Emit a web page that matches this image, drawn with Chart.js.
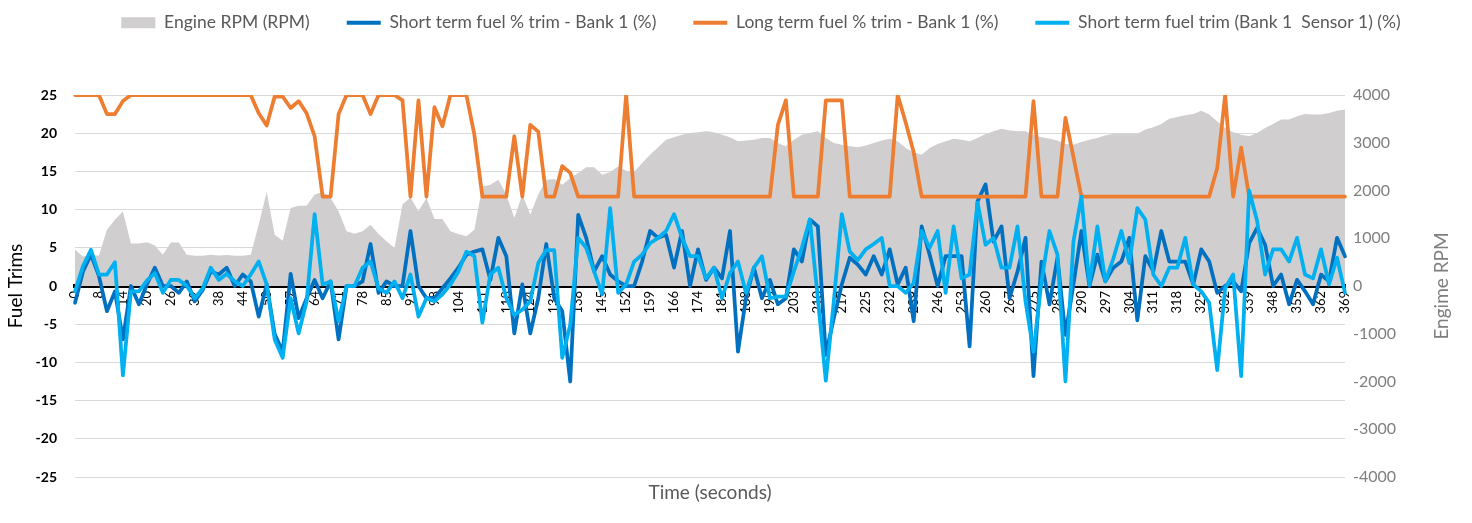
<!DOCTYPE html>
<html>
<head>
<meta charset="utf-8">
<script src="https://cdn.jsdelivr.net/npm/chart.js@4.4.1/dist/chart.umd.min.js"></script>
<style>
html,body{margin:0;padding:0;background:#ffffff;}
#wrap{width:1472px;height:523px;position:relative;}
</style>
</head>
<body>
<div id="wrap"><canvas id="c"></canvas></div>
<script>
// x-axis tick labels (time in seconds, shown every 3rd sample)
const timeTicks = [0,8,14,20,26,32,38,44,50,57,64,71,78,85,91,98,104,111,118,124,131,138,145,152,159,166,174,181,188,195,203,210,217,225,232,239,246,253,260,267,275,283,290,297,304,311,318,325,332,339,348,355,362,369];

// Engine RPM (RPM) - right axis
const engineRpm = [
  760, 620, 640, 640, 1180, 1390, 1560, 890, 890, 915,
  850, 655, 910, 910, 655, 635, 635, 655, 640, 650,
  635, 635, 655, 1285, 1970, 1075, 950, 1635, 1680, 1680,
  1915, 1970, 1845, 1565, 1145, 1095, 1145, 1285, 1090, 935,
  795, 1705, 1855, 1565, 1845, 1405, 1405, 1145, 1090, 1040,
  1180, 2085, 2120, 2225, 1915, 1425, 1915, 1495, 1915, 2225,
  2240, 2120, 2260, 2365, 2485, 2485, 2330, 2385, 2505, 2415,
  2385, 2575, 2750, 2905, 3065, 3115, 3170, 3205, 3220, 3240,
  3220, 3170, 3115, 3030, 3045, 3065, 3100, 3100, 2995, 2925,
  3065, 3170, 3205, 3240, 3100, 2995, 2960, 2925, 2905, 2945,
  2995, 3045, 3085, 3030, 2890, 2800, 2750, 2890, 2975, 3030,
  3085, 3065, 3030, 3100, 3185, 3240, 3295, 3255, 3240, 3240,
  3170, 3115, 3085, 3045, 2975, 2960, 3015, 3065, 3100, 3155,
  3185, 3185, 3185, 3185, 3275, 3325, 3395, 3505, 3540, 3575,
  3600, 3670, 3590, 3450, 3310, 3220, 3170, 3135, 3205, 3310,
  3395, 3485, 3485, 3555, 3600, 3590, 3590, 3625, 3670, 3695
];

// Short term fuel % trim - Bank 1 (%)
const stftBank1 = [
  -2.2, 1.9, 4.1, 1.3, -3.3, -0.7, -7.0, 0, -2.4, 0.2,
  2.4, 0, 0, -0.9, 0.6, -2.0, -0.5, 1.9, 1.5, 2.4,
  0, 1.5, 0.6, -4.0, 0.2, -6.3, -8.6, 1.6, -4.2, -1.6,
  0.8, -1.6, 0.6, -7.0, 0, 0, 0.6, 5.5, -0.9, 0.6,
  0, 0, 7.2, 0, -1.6, -1.6, -0.3, 1.0, 2.4, 4.1,
  4.5, 4.8, 0.8, 6.3, 3.9, -6.2, 0.2, -6.2, -1.6, 5.5,
  -1.6, -3.3, -12.5, 9.3, 6.3, 1.9, 3.9, 1.5, 0.6, 0,
  0, 3.2, 7.2, 6.3, 6.7, 2.4, 7.2, 0, 4.8, 0.8,
  2.4, 1.0, 7.2, -8.6, -1.6, 2.4, -1.6, 0.8, -2.4, -1.6,
  4.8, 3.2, 8.7, 7.8, -9.0, -4.2, 0.2, 3.7, 2.8, 1.5,
  3.9, 1.5, 4.8, 0.2, 2.4, -4.6, 7.8, 4.1, 0, 3.9,
  3.9, 3.9, -7.9, 11.1, 13.3, 5.8, 7.8, -1.6, 1.9, 6.3,
  -11.8, 3.2, -2.4, 3.7, -6.4, 0.2, 7.2, 0, 4.1, 0.6,
  2.4, 3.2, 6.3, -4.5, 3.9, 1.9, 7.2, 3.2, 3.2, 3.2,
  0.2, 4.8, 3.2, -0.9, 0, 0.6, -0.7, 5.6, 7.6, 5.4,
  0, 1.5, -2.4, 0.8, -0.7, -2.4, 1.5, 0.6, 6.3, 3.9
];

// Long term fuel % trim - Bank 1 (%)
const ltftBank1 = [
  25, 25, 25, 25, 22.5, 22.5, 24.2, 25, 25, 25,
  25, 25, 25, 25, 25, 25, 25, 25, 25, 25,
  25, 25, 25, 22.6, 21.0, 24.8, 24.8, 23.3, 24.2, 22.6,
  19.6, 11.7, 11.7, 22.5, 25, 25, 25, 22.5, 25, 25,
  25, 24.3, 11.7, 24.3, 11.7, 23.4, 20.9, 25, 25, 25,
  19.8, 11.7, 11.7, 11.7, 11.7, 19.6, 11.7, 21.1, 20.2, 11.7,
  11.7, 15.7, 14.8, 11.7, 11.7, 11.7, 11.7, 11.7, 11.7, 25,
  11.7, 11.7, 11.7, 11.7, 11.7, 11.7, 11.7, 11.7, 11.7, 11.7,
  11.7, 11.7, 11.7, 11.7, 11.7, 11.7, 11.7, 11.7, 21.1, 24.3,
  11.7, 11.7, 11.7, 11.7, 24.3, 24.3, 24.3, 11.7, 11.7, 11.7,
  11.7, 11.7, 11.7, 25, 21.4, 17.5, 11.7, 11.7, 11.7, 11.7,
  11.7, 11.7, 11.7, 11.7, 11.7, 11.7, 11.7, 11.7, 11.7, 11.7,
  24.2, 11.7, 11.7, 11.7, 22.0, 16.9, 11.7, 11.7, 11.7, 11.7,
  11.7, 11.7, 11.7, 11.7, 11.7, 11.7, 11.7, 11.7, 11.7, 11.7,
  11.7, 11.7, 11.7, 15.4, 25, 11.7, 18.1, 11.7, 11.7, 11.7,
  11.7, 11.7, 11.7, 11.7, 11.7, 11.7, 11.7, 11.7, 11.7, 11.7
];

// Short term fuel trim (Bank 1  Sensor 1) (%)
const stftSensor1 = [
  -0.7, 2.6, 4.75, 1.5, 1.5, 3.1, -11.7, -0.7, -0.7, 0.7,
  1.7, -0.9, 0.8, 0.8, 0, -1.6, -0.3, 2.4, 0.8, 1.6,
  0.6, 0, 1.5, 3.2, 0.2, -7.0, -9.4, -1.6, -6.2, -2.0,
  9.4, 0.2, 0.6, -4.6, 0, 0, 2.4, 3.2, -0.3, -0.9,
  0.6, -1.6, 1.5, -4.0, -1.6, -2.0, -1.1, 0.2, 1.9, 4.5,
  3.9, -4.8, 1.5, 2.4, -1.6, -3.8, -3.1, -2.0, 3.0, 4.7,
  4.7, -9.4, -5.1, 6.3, 5.0, 1.9, -1.1, 10.2, -0.9, 0.2,
  3.2, 4.1, 5.6, 6.3, 7.2, 9.4, 6.3, 3.9, 3.9, 1.0,
  2.4, -1.6, 1.7, 3.2, -0.9, 2.4, 3.9, -1.6, -1.4, -1.4,
  1.9, 5.0, 8.7, -1.6, -12.4, -2.0, 9.4, 4.5, 3.4, 4.8,
  5.5, 6.3, 0, 0, -0.9, 0.4, 7.2, 5.0, 7.2, -0.9,
  7.8, 1.0, 1.5, 10.9, 5.4, 6.3, 2.4, 2.4, 7.8, -2.0,
  -8.6, 0.6, 7.2, 4.1, -12.5, 5.8, 11.7, 0.2, 7.8, 0.6,
  3.6, 7.2, 3.0, 10.2, 8.7, 1.5, 0, 2.4, 2.4, 6.3,
  0.2, -0.7, -2.2, -11.0, -0.3, 1.5, -11.8, 12.5, 8.5, 1.5,
  4.8, 4.8, 3.2, 6.3, 1.5, 1.0, 4.8, 0.2, 3.7, -0.9
];

const seriesNames = [
  'Engine RPM (RPM)',
  'Short term fuel % trim - Bank 1 (%)',
  'Long term fuel % trim - Bank 1 (%)',
  'Short term fuel trim (Bank 1  Sensor 1) (%)'
];

// one category per sample; every 3rd sample carries a time tick label
const labels = engineRpm.map((_, i) => (i % 3 === 0 ? String(timeTicks[i / 3]) : ''));

const FONT = 'Lato';

// right axis title reads bottom-to-top like the left one
const rightTitlePlugin = {
  id: 'rightTitle',
  afterDraw(chart) {
    const ctx = chart.ctx;
    const s = chart.scales.y1;
    ctx.save();
    ctx.translate(s.right - 30, (chart.chartArea.top + chart.chartArea.bottom) / 2);
    ctx.rotate(-Math.PI / 2);
    ctx.font = '19px ' + FONT;
    ctx.fillStyle = '#7f7f7f';
    ctx.textAlign = 'center';
    ctx.textBaseline = 'middle';
    ctx.fillText('Engime RPM', 0, 0);
    ctx.restore();
  }
};

// place the legend row near the top edge, centred a little right of the canvas centre
const legendPlacePlugin = {
  id: 'legendPlace',
  afterLayout(chart) {
    const lg = chart.legend;
    if (!lg) return;
    const dy = -23 - lg.top;
    lg.top += dy; lg.bottom += dy;
    lg.left += 25; lg.right += 25;
  }
};

new Chart(document.getElementById('c'), {
  type: 'line',
  data: {
    labels: labels,
    datasets: [
      {
        label: seriesNames[0], data: engineRpm, yAxisID: 'y1',
        fill: 'origin', backgroundColor: '#d0cece', borderColor: '#d0cece',
        borderWidth: 0, pointRadius: 0, tension: 0, order: 3
      },
      {
        label: seriesNames[1], data: stftBank1, yAxisID: 'y',
        fill: false, borderColor: '#0070c0', backgroundColor: '#0070c0',
        borderWidth: 3.75, pointRadius: 0, tension: 0, order: 2,
        borderJoinStyle: 'round', borderCapStyle: 'round'
      },
      {
        label: seriesNames[2], data: ltftBank1, yAxisID: 'y',
        fill: false, borderColor: '#ed7d31', backgroundColor: '#ed7d31',
        borderWidth: 3.75, pointRadius: 0, tension: 0, order: 1,
        borderJoinStyle: 'round', borderCapStyle: 'round'
      },
      {
        label: seriesNames[3], data: stftSensor1, yAxisID: 'y',
        fill: false, borderColor: '#00b0f0', backgroundColor: '#00b0f0',
        borderWidth: 3.75, pointRadius: 0, tension: 0, order: 0,
        borderJoinStyle: 'round', borderCapStyle: 'round'
      }
    ]
  },
  options: {
    responsive: true,
    maintainAspectRatio: false,
    devicePixelRatio: 1,
    animation: false,
    layout: { padding: { top: 0, left: 0, right: 0, bottom: 0 } },
    plugins: {
      tooltip: { enabled: false },
      legend: {
        position: 'top',
        labels: {
          usePointStyle: true,
          pointStyleWidth: 34,
          boxHeight: 11,
          padding: 37,
          color: '#595959',
          font: { family: FONT, size: 17.5 },
          generateLabels(chart) {
            return chart.data.datasets.map((ds, i) => ({
              text: ds.label,
              fillStyle: i === 0 ? ds.backgroundColor : ds.borderColor,
              strokeStyle: i === 0 ? ds.backgroundColor : ds.borderColor,
              lineWidth: i === 0 ? 0 : 4,
              pointStyle: i === 0 ? 'rect' : 'line',
              hidden: false,
              datasetIndex: i,
              fontColor: '#595959'
            }));
          }
        }
      }
    },
    scales: {
      x: {
        type: 'category',
        position: { y: 0 },
        offset: false,
        grid: { display: false, drawTicks: false },
        border: { display: true, color: '#000000', width: 4 },
        ticks: {
          autoSkip: false, maxRotation: 90, minRotation: 90, padding: 5,
          color: '#000000', font: { family: FONT, size: 13 },
          callback: (v, i) => (i % 3 === 0 ? String(timeTicks[i / 3]) : null)
        }
      },
      x2: {
        type: 'category',
        position: 'bottom',
        grid: { display: false, drawTicks: false },
        border: { display: false },
        ticks: { display: false },
        title: {
          display: true, text: 'Time (seconds)', color: '#595959',
          font: { family: FONT, size: 19 }, padding: { top: 0, bottom: 19 }
        },
        afterFit(s) { s.height = 46; }
      },
      y: {
        position: 'left',
        min: -25, max: 25,
        ticks: {
          stepSize: 5, padding: 18, color: '#000000',
          font: { family: FONT, size: 14, weight: 'bold' }
        },
        grid: {
          drawTicks: false,
          color: (ctx) => (ctx.tick && ctx.tick.value === 0 ? 'rgba(0,0,0,0)' : '#d9d9d9'),
          lineWidth: 1
        },
        border: { display: false },
        title: {
          display: true, text: 'Fuel Trims', color: '#000000',
          font: { family: FONT, size: 19 }, padding: { top: 4, bottom: 0 }
        },
        afterFit(s) { s.width = 75; s.paddingTop = 95; s.paddingBottom = 46; }
      },
      y1: {
        position: 'right',
        min: -4000, max: 4000,
        ticks: {
          stepSize: 1000, padding: 8, color: '#7f7f7f',
          font: { family: FONT, size: 16 },
          callback: (v) => String(v)
        },
        grid: { display: false, drawTicks: false },
        border: { display: false },
        afterFit(s) { s.width = 127; }
      }
    }
  },
  plugins: [legendPlacePlugin, rightTitlePlugin]
});
</script>
</body>
</html>
